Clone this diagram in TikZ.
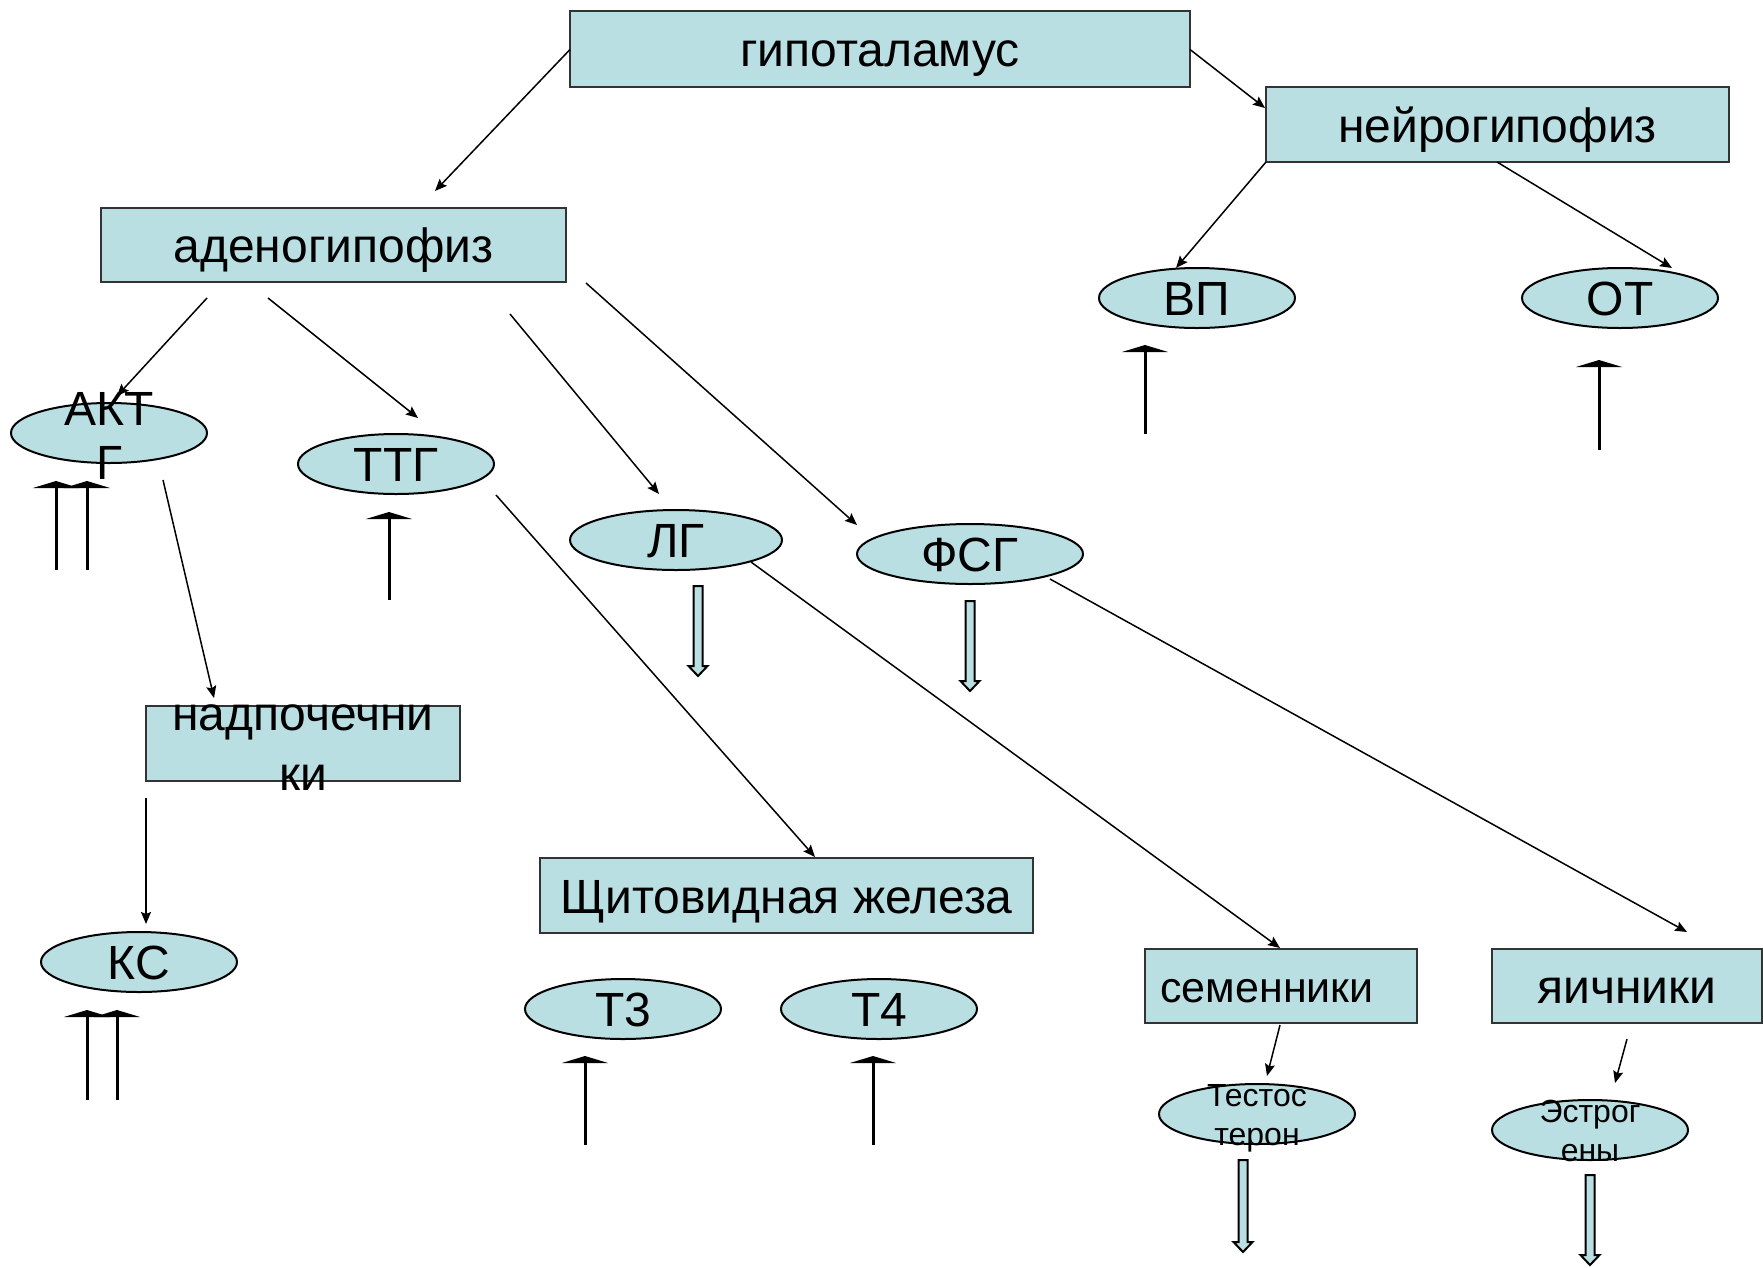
\documentclass[tikz,border=0pt]{standalone}
\usepackage{fontspec}
\setmainfont{Liberation Sans}
\usetikzlibrary{shapes.geometric,arrows.meta}
\definecolor{tealfill}{RGB}{186,223,227}
\tikzset{
  box/.style={draw=black!80, line width=1.5pt, fill=tealfill, rectangle, inner sep=0pt, font=\fontsize{48}{54}\selectfont, text height=35pt, text depth=0pt},
  ell/.style={draw=black, line width=2pt, fill=tealfill, ellipse, inner sep=0pt, minimum height=60pt},
  lbl/.style={inner sep=0pt, align=center, font=\fontsize{48}{54}\selectfont},
  clbl/.style={inner sep=0pt, font=\fontsize{48}{54}\selectfont, text height=35pt, text depth=0pt},
  slbl/.style={inner sep=0pt, align=center, font=\fontsize{32}{39}\selectfont},
  conn/.style={line width=1.5pt, -{Stealth[length=12pt,width=10pt,inset=2pt]}},
  uparr/.style={line width=3pt, -{Triangle[width=46pt,length=7pt]}},
  blk/.style={draw=black, line width=2pt, fill=tealfill, line join=miter}
}
\newcommand\blockdown[3]{%
  \draw[blk] (#1-4.5,#2) -- (#1+4.5,#2) -- (#1+4.5,#3-10) -- (#1+9.5,#3-10) -- (#1,#3) -- (#1-9.5,#3-10) -- (#1-4.5,#3-10) -- cycle;}
\begin{document}
\begin{tikzpicture}[x=1pt,y=-1pt]
\useasboundingbox (0,0) rectangle (1763,1267);
% boxes
\node[box, minimum width=620pt, minimum height=76pt] (hypo) at (880,49) {гипоталамус};
\node[box, minimum width=463pt, minimum height=75pt] (neuro) at (1497.5,124.5) {нейрогипофиз};
\node[box, minimum width=465pt, minimum height=74pt] (adeno) at (333.5,245) {аденогипофиз};
\node[box, minimum width=314pt, minimum height=75pt] (adrenal) at (303,743.5) {};
\node[lbl] (adrenaltxt) at (303,748) {надпочечни\\[6pt]ки};
\node[box, minimum width=493pt, minimum height=75pt] (thyroid) at (786.5,895.5) {Щитовидная железа};
\node[box, minimum width=272pt, minimum height=74pt] (testis) at (1281,986) {};
\node[clbl, font=\fontsize{43}{50}\selectfont, text height=32pt] (testistxt) at (1267,986) {семенники};
\node[box, minimum width=270pt, minimum height=74pt] (ovary) at (1627,986) {яичники};
% ellipses
\node[ell, minimum width=196pt] (vp) at (1197,298) {};
\node[clbl] at (vp) {ВП};
\node[ell, minimum width=196pt] (ot) at (1620,298) {};
\node[clbl] at (ot) {ОТ};
\node[ell, minimum width=196pt] (actg) at (109,433) {};
\node[lbl] (actgtxt) at (109,436) {АКТ\\Г};
\node[ell, minimum width=196pt] (ttg) at (396,464) {};
\node[clbl] at (ttg) {ТТГ};
\node[ell, minimum width=212pt] (lg) at (676,540) {};
\node[clbl] at (lg) {ЛГ};
\node[ell, minimum width=226pt] (fsg) at (970,554) {};
\node[clbl] at (fsg) {ФСГ};
\node[ell, minimum width=196pt] (ks) at (139,962) {};
\node[clbl] at (ks) {КС};
\node[ell, minimum width=196pt] (t3) at (623,1009) {};
\node[clbl] at (t3) {Т3};
\node[ell, minimum width=196pt] (t4) at (879,1009) {};
\node[clbl] at (t4) {Т4};
\node[ell, minimum width=196pt] (testo) at (1257,1114) {};
\node[slbl] (testotxt) at (1257,1118) {Тестос\\терон};
\node[ell, minimum width=196pt] (estro) at (1590,1130) {};
\node[slbl] (estrotxt) at (1590,1131) {Эстрог\\ены};
% connector coordinates
\coordinate (a1s) at (570,49.5);  \coordinate (a1e) at (435,191);
\coordinate (a2s) at (1190,49.5); \coordinate (a2e) at (1265,108);
\coordinate (a3s) at (1266,162);  \coordinate (a3e) at (1176,268);
\coordinate (a4s) at (1497,162);  \coordinate (a4e) at (1672,268);
\coordinate (a5s) at (207,298);   \coordinate (a5e) at (117,396);
\coordinate (a6s) at (268,298);   \coordinate (a6e) at (418,418);
\coordinate (a7s) at (510,314);   \coordinate (a7e) at (659,494);
\coordinate (a8s) at (586,283);   \coordinate (a8e) at (857,525);
\coordinate (a9s) at (163,480);   \coordinate (a9e) at (214,698);
\coordinate (a10s) at (496,495);  \coordinate (a10e) at (815,857);
\coordinate (a11s) at (751,562);  \coordinate (a11e) at (1280,948);
\coordinate (a12s) at (1050,579); \coordinate (a12e) at (1687,932);
\coordinate (a13s) at (146,798);  \coordinate (a13e) at (146,924);
\coordinate (a14s) at (1280,1025);\coordinate (a14e) at (1267,1076);
\coordinate (a15s) at (1627,1039);\coordinate (a15e) at (1615,1083);
\foreach \i in {1,...,15} {\draw[conn] (a\i s) -- (a\i e);}
% up arrows
\foreach \x/\yb/\yt in {56/570/481, 87/570/481, 389/600/512, 1145/434/345, 1599/450/360, 87/1100/1010, 117/1100/1010, 585/1145/1056, 873/1145/1056} {
  \coordinate (ub) at (\x,\yb); \coordinate (ut) at (\x,\yt);
  \draw[uparr] (ub) -- (ut);
}
% block arrows
\blockdown{698}{586}{676}
\blockdown{970}{601}{691}
\blockdown{1243}{1160}{1252}
\blockdown{1590}{1175}{1265}
\end{tikzpicture}
\end{document}
